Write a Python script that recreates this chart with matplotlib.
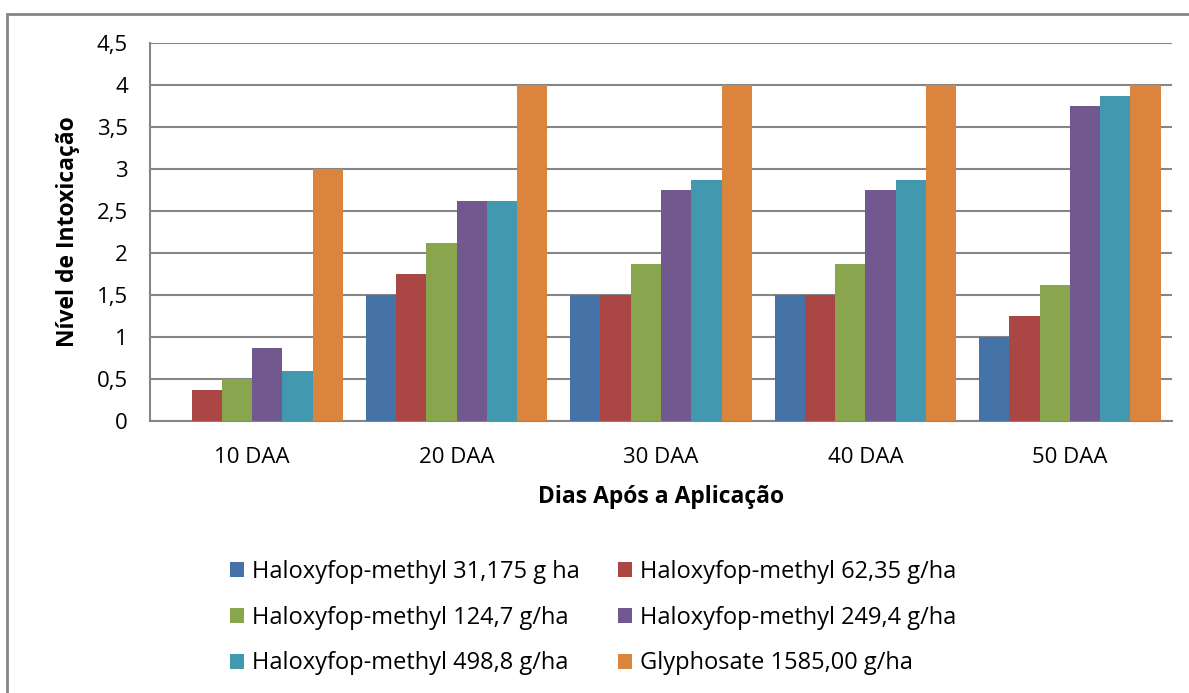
import matplotlib
matplotlib.use("Agg")
import matplotlib.pyplot as plt
import numpy as np
from matplotlib.patches import Rectangle, Patch
from matplotlib.ticker import FuncFormatter, MultipleLocator

categories = ["10 DAA", "20 DAA", "30 DAA", "40 DAA", "50 DAA"]
series_labels = [
    "Haloxyfop-methyl 31,175 g ha",
    "Haloxyfop-methyl 62,35 g/ha",
    "Haloxyfop-methyl 124,7 g/ha",
    "Haloxyfop-methyl 249,4 g/ha",
    "Haloxyfop-methyl 498,8 g/ha",
    "Glyphosate 1585,00 g/ha",
]
h31 = [0.0, 1.5, 1.5, 1.5, 1.0]
h62 = [0.375, 1.75, 1.5, 1.5, 1.25]
h124 = [0.5, 2.125, 1.875, 1.875, 1.625]
h249 = [0.875, 2.625, 2.75, 2.75, 3.75]
h498 = [0.6, 2.625, 2.875, 2.875, 3.875]
gly = [3.0, 4.0, 4.0, 4.0, 4.0]
series = [h31, h62, h124, h249, h498, gly]
colors = ["#4572A7", "#AA4643", "#89A54E", "#71588F", "#4198AF", "#DB843D"]

plt.rcParams["font.family"] = ["Open Sans", "DejaVu Sans"]

fig = plt.figure(figsize=(11.89, 6.93), dpi=100)
ax = fig.add_axes([150 / 1189, 1 - 421 / 693, (1172 - 150) / 1189, (421 - 43) / 693])

x = np.arange(len(categories))
bw = 0.148
n = len(series)
for i, (vals, c) in enumerate(zip(series, colors)):
    ax.bar(x + (i - (n - 1) / 2) * bw, vals, width=bw, color=c, zorder=3)

ax.set_xlim(-0.5, len(categories) - 0.5)
ax.set_ylim(0, 4.5)
ax.yaxis.set_major_locator(MultipleLocator(0.5))
ax.yaxis.set_major_formatter(FuncFormatter(lambda v, p: (f"{v:g}").replace(".", ",")))
ax.set_xticks(x)
ax.set_xticklabels(categories)
ax.tick_params(axis="both", length=0, labelsize=16, colors="black")
ax.tick_params(axis="x", pad=19)
ax.tick_params(axis="y", pad=16)
ax.grid(axis="y", color="#868686", linewidth=1.5, zorder=0)
for s in ["top", "right"]:
    ax.spines[s].set_visible(False)
for s in ["left", "bottom"]:
    ax.spines[s].set_color("#868686")
    ax.spines[s].set_linewidth(1.5)

ax.set_ylabel("Nível de Intoxicação", fontsize=16.5, fontweight="bold", labelpad=12)
ax.set_xlabel("Dias Após a Aplicação", fontsize=16.5, fontweight="bold", labelpad=12)

handles = [Patch(facecolor=c) for c in colors]
order = [0, 2, 4, 1, 3, 5]
fig.legend([handles[i] for i in order], [series_labels[i] for i in order],
           ncol=2, loc="upper left", bbox_to_anchor=(230 / 1189, 1 - 560 / 693),
           frameon=False, fontsize=17, handlelength=0.6, handleheight=0.6,
           handletextpad=0.35, columnspacing=1.6, labelspacing=0.92, borderaxespad=0,
           borderpad=0)

fig.add_artist(Rectangle((7 / 1189, -0.05), 1.2, 1 - 14 / 693 + 0.05,
                         transform=fig.transFigure, fill=False,
                         edgecolor="#868686", linewidth=2, clip_on=False))

fig.savefig("out.png", dpi=100)
